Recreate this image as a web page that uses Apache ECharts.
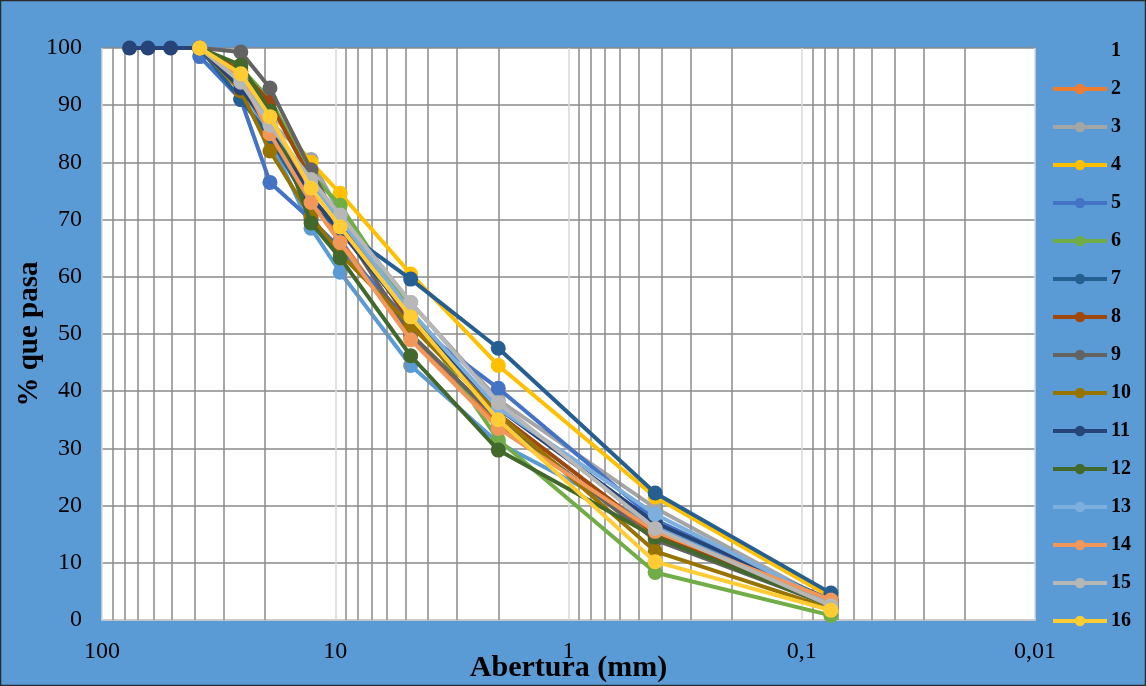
<!DOCTYPE html>
<html>
<head>
<meta charset="utf-8">
<script src="https://cdn.jsdelivr.net/npm/echarts@6/dist/echarts.min.js"></script>
<style>
html,body{margin:0;padding:0;background:#5B9BD5;}
#chart{width:1146px;height:686px;}
</style>
</head>
<body>
<div id="chart"></div>
<script>
// Sieve openings (mm)
const sieves = [76.2, 63.5, 50.8, 38.1, 25.4, 19.05, 12.7, 9.525, 4.75, 2.0, 0.425, 0.075];
const seriesNames = ['1','2','3','4','5','6','7','8','9','10','11','12','13','14','15','16'];
const seriesColors = ['#5B9BD5','#ED7D31','#A5A5A5','#FFC000','#4472C4','#70AD47','#255E91','#9E480E',
                      '#636363','#997300','#264478','#43682B','#7CAFDD','#F1975A','#B7B7B7','#FFCD33'];
// % passing, aligned with sieves (null = not tested)
const s1  = [null, null, null, 100, 94.0, 84.0, 68.5, 60.8, 44.5, 31.0, 16.5, 2.5];
const s2  = [null, null, null, 100, 95.0, 88.0, 74.0, 66.5, 49.5, 34.0, 15.0, 3.5];
const s3  = [null, null, null, 100, 94.0, 87.0, 80.5, 71.0, 55.5, 38.5, 19.6, 3.0];
const s4  = [null, null, null, 100, 96.0, 89.0, 80.0, 74.6, 60.5, 44.5, 21.5, 4.0];
const s5  = [null, null, null, 98.5, 91.0, 76.5, 70.0, 65.0, 52.0, 40.5, 17.5, 3.0];
const s6  = [null, null, null, 100, 96.5, 91.0, 78.0, 72.5, 54.0, 31.5, 8.3, 0.8];
const s7  = [null, null, null, 100, 91.0, 84.4, 72.0, 68.5, 59.6, 47.5, 22.2, 4.7];
const s8  = [null, null, null, 100, 96.0, 90.5, 77.0, 70.0, 52.0, 36.0, 15.0, 3.0];
const s9  = [null, null, null, 100, 99.3, 93.0, 78.7, 69.0, 50.0, 35.0, 14.0, 2.5];
const s10 = [null, null, null, 100, 92.5, 82.0, 70.5, 64.0, 51.5, 36.0, 12.0, 2.0];
const s11 = [100, 100, 100, 100, 93.0, 86.0, 74.0, 68.0, 53.0, 37.0, 17.0, 3.5];
const s12 = [null, null, null, 100, 97.0, 89.0, 69.4, 63.3, 46.2, 29.7, 14.5, 2.5];
const s13 = [null, null, null, 100, 94.5, 87.0, 76.0, 70.0, 54.0, 37.0, 18.5, 3.0];
const s14 = [null, null, null, 100, 95.0, 85.0, 73.0, 66.0, 49.0, 33.5, 15.5, 3.5];
const s15 = [null, null, null, 100, 94.0, 86.5, 77.0, 70.8, 55.5, 38.0, 16.0, 2.5];
const s16 = [null, null, null, 100, 95.5, 88.0, 75.5, 68.7, 53.0, 35.0, 10.2, 1.7];
const allValues = [s1,s2,s3,s4,s5,s6,s7,s8,s9,s10,s11,s12,s13,s14,s15,s16];

const xTickValues = [100, 10, 1, 0.1, 0.01];
const xTickLabels = ['100', '10', '1', '0,1', '0,01'];
const decades = [10, 1, 0.1, 0.01];
const minorMultipliers = [2,3,4,5,6,7,8,9];
const minorGrid = [];
decades.forEach(d => minorMultipliers.forEach(k => minorGrid.push(+(k*d).toPrecision(6))));

const FONT = '"Liberation Serif", "Times New Roman", serif';

const series = [{
  type: 'line', name: '__grid', data: [], z: 1, silent: true,
  markLine: {
    silent: true, symbol: ['none','none'], animation: false,
    label: {show: false},
    lineStyle: {color: '#8a8a8a', width: 1.5, type: 'solid'},
    data: minorGrid.map(v => ({xAxis: v}))
  }
}];
allValues.forEach((vals, i) => {
  const data = [];
  sieves.forEach((s, j) => { if (vals[j] !== null) data.push([s, vals[j]]); });
  series.push({
    type: 'line', name: seriesNames[i], data: data, z: 2 + i,
    symbol: 'circle', symbolSize: 15, showSymbol: true,
    lineStyle: {width: 4, color: seriesColors[i]},
    itemStyle: {color: seriesColors[i]},
    animation: false
  });
});

const chart = echarts.init(document.getElementById('chart'));
chart.setOption({
  backgroundColor: '#5B9BD5',
  animation: false,
  graphic: [{
    type: 'rect', z: 100, silent: true,
    shape: {x: 0.5, y: 0.5, width: 1145, height: 685},
    style: {fill: 'none', stroke: '#2a2a2a', lineWidth: 1.5}
  }],
  grid: {left: 102, right: 111, top: 48, bottom: 66, show: true, backgroundColor: '#ffffff', borderWidth: 0,
         outerBoundsMode: 'none', containLabel: false},
  xAxis: {
    type: 'log', logBase: 10, min: 0.01, max: 100, inverse: true,
    name: 'Abertura (mm)', nameLocation: 'middle', nameGap: 33, nameMoveOverlap: false,
    nameTextStyle: {fontFamily: FONT, fontSize: 30, fontWeight: 'bold', color: '#000'},
    axisLine: {show: true, lineStyle: {color: '#d9d9d9', width: 1.5}},
    axisTick: {show: false},
    axisLabel: {
      fontFamily: FONT, fontSize: 24, color: '#000', margin: 20,
      formatter: function (v) {
        for (let i = 0; i < xTickValues.length; i++) {
          if (Math.abs(Math.log10(v) - Math.log10(xTickValues[i])) < 1e-6) return xTickLabels[i];
        }
        return '';
      }
    },
    splitLine: {show: true, lineStyle: {color: '#d9d9d9', width: 1.5}}
  },
  yAxis: {
    type: 'value', min: 0, max: 100, interval: 10,
    name: '% que pasa', nameLocation: 'middle', nameGap: 58, nameMoveOverlap: false,
    nameTextStyle: {fontFamily: FONT, fontSize: 29, fontWeight: 'bold', color: '#000'},
    axisLine: {show: false}, axisTick: {show: false},
    axisLabel: {fontFamily: FONT, fontSize: 24, color: '#000', margin: 20},
    splitLine: {show: true, lineStyle: {color: '#8a8a8a', width: 1.5}}
  },
  legend: {
    data: seriesNames, orient: 'vertical', left: 1051, top: 41, padding: 0,
    itemWidth: 54, itemHeight: 13, itemGap: 18,
    lineStyle: {width: 4},
    textStyle: {fontFamily: FONT, fontSize: 20, fontWeight: 'bold', color: '#000', lineHeight: 20, padding: [0,0,0,-1]}
  },
  series: series
});
</script>
</body>
</html>
